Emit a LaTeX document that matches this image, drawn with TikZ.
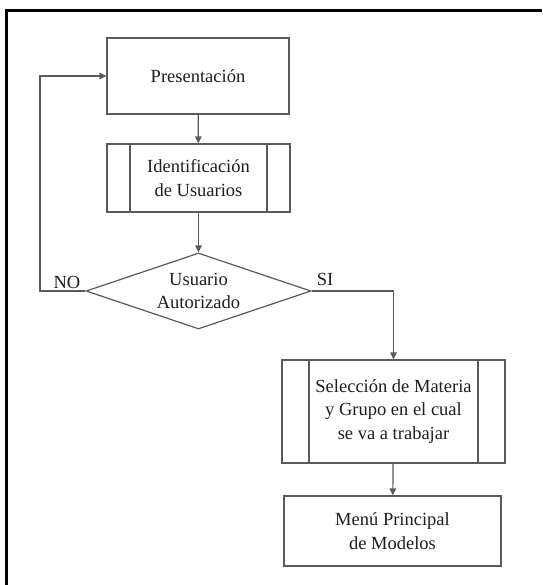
\documentclass[tikz,border=0pt]{standalone}
\usepackage{fontspec}
\setmainfont{Liberation Serif}
\usetikzlibrary{shapes.geometric,arrows.meta}
\definecolor{edge}{HTML}{5A5A5A}
\definecolor{ink}{HTML}{1E1E1E}
\tikzset{
  boxline/.style={draw=edge, line width=1.2pt},
  box/.style={boxline, rectangle, align=center, text=ink, inner sep=0pt,
    font=\fontsize{18.5}{23.5}\selectfont},
  subproc/.style={box, path picture={
    \draw[boxline] ([xshift=#1]path picture bounding box.north west) -- ([xshift=#1]path picture bounding box.south west);
    \draw[boxline] ([xshift=-#1]path picture bounding box.north east) -- ([xshift=-#1]path picture bounding box.south east);}},
  decision/.style={box, diamond, shape aspect=2.96},
  flow/.style={boxline, -{Triangle[length=7pt,width=6.5pt]}},
  tag/.style={text=ink, inner sep=0pt, font=\fontsize{18.5}{22}\selectfont},
}
\begin{document}
\begin{tikzpicture}[x=1pt,y=-1pt]
  \useasboundingbox (0,0) rectangle (542,585);
  % outer frame (only top and left edges fall inside the page)
  \draw[black, line width=3pt] (6,585) -- (6,11) -- (542,11);

  \node[box, minimum width=182pt, minimum height=76pt] (pres) at (198,76) {Presentación};
  \node[subproc=23pt, minimum width=183pt, minimum height=68pt] (ident) at (198.5,178) {Identificación\\de Usuarios};
  \node[decision, minimum width=225pt, minimum height=76pt] (dec) at (198.5,291) {Usuario\\Autorizado};
  \node[subproc=27pt, minimum width=223pt, minimum height=103pt] (sel) at (393.5,411.5) {Selección de Materia\\y Grupo en el cual\\se va a trabajar};
  \node[box, minimum width=217pt, minimum height=70pt] (menu) at (392.5,531) {Menú Principal\\de Modelos};

  \node[tag] (no) at (67,282) {NO};
  \node[tag] (si) at (325,279) {SI};

  \coordinate (noturn) at (40,0);
  \coordinate (siturn) at (sel.north);

  \draw[flow] (pres) -- (ident);
  \draw[flow] (ident) -- (dec);
  \draw[flow] (dec.west) -- (dec.west -| noturn) -- (pres.west -| noturn) -- (pres.west);
  \draw[flow] (dec.east) -- (dec.east -| siturn) -- (sel.north);
  \draw[flow] (sel) -- (menu);
\end{tikzpicture}
\end{document}
